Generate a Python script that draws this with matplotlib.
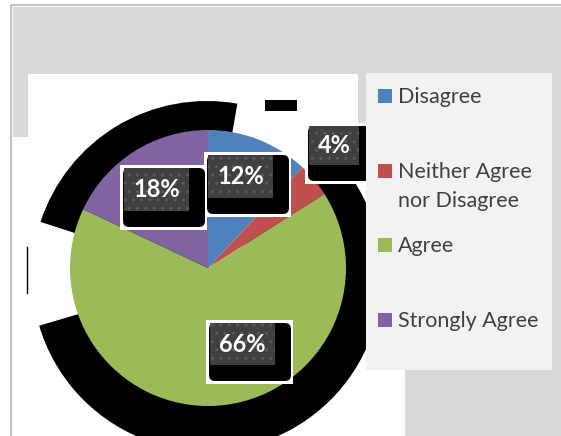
import textwrap
import matplotlib
matplotlib.use("Agg")
import matplotlib.pyplot as plt
from matplotlib.patches import Rectangle, Wedge, FancyBboxPatch

# ---- data ----
categories = ["Disagree", "Neither Agree nor Disagree", "Agree", "Strongly Agree"]
values = [12, 4, 66, 18]
label_texts = ["12%", "4%", "66%", "18%"]
colors = ["#4f81bd", "#c0504d", "#9bbb59", "#8064a2"]

# ---- layout (pixel units, y measured from top) ----
W, H = 561, 436
PIE_C = (208, 268)
PIE_R = 138
# dark label boxes: (left, top, width, height)
label_boxes = [(208, 155, 65, 43), (309, 126, 50, 39), (210, 323, 65, 42), (124, 168, 65, 43)]
legend_baselines = [103, 178, 252, 327]

plt.rcParams['font.family'] = ['Lato', 'DejaVu Sans']

fig = plt.figure(figsize=(W / 100, H / 100), dpi=100)
fig.patch.set_facecolor("white")
ax = fig.add_axes([0, 0, 1, 1])


def Y(py):
    return H - py


def rect(x0, y0, x1, y1, z=1, **kw):
    ax.add_patch(Rectangle((x0, Y(y1)), x1 - x0, y1 - y0, zorder=z, **kw))


# backgrounds
rect(13, 7, W, H, z=0.5, facecolor="#d9d9d9", edgecolor="none")
ax.plot([11.5, 11.5], [Y(5), Y(H)], color="#c3c3c3", lw=1.6, zorder=0.6, solid_capstyle="butt")
ax.plot([11, W], [Y(5.5), Y(5.5)], color="#c3c3c3", lw=1.6, zorder=0.6, solid_capstyle="butt")
rect(28, 74, 358, 138, z=0.7, facecolor="white", edgecolor="none")
rect(13, 137, 405, H, z=0.7, facecolor="white", edgecolor="none")

# black shadow artifact behind pie
SC = (207, Y(276))
ax.add_patch(Wedge(SC, 175, 80, 162, facecolor="black", edgecolor="none", zorder=1))
ax.add_patch(Wedge(SC, 175, -163.5, 40, facecolor="black", edgecolor="none", zorder=1))
rect(265, 100, 297, 111, z=1, facecolor="black", edgecolor="none")
ax.plot([27.5, 27.5], [Y(247), Y(293)], color="black", lw=1, zorder=1)

# pie
wedges, _ = ax.pie(values, colors=colors, startangle=90, counterclock=False,
                   center=(PIE_C[0], Y(PIE_C[1])), radius=PIE_R,
                   wedgeprops=dict(linewidth=0))
for w in wedges:
    w.set_zorder(2)

# data labels
for txt, (x0, y0, bw, bh) in zip(label_texts, label_boxes):
    rect(x0 - 4, y0 - 3, x0 + bw + 18, y0 + bh + 19, z=3, facecolor="white", edgecolor="none")
    ax.add_patch(FancyBboxPatch((x0 - 1, Y(y0 + bh + 16)), bw + 17, bh + 16,
                                boxstyle="round,pad=0,rounding_size=6",
                                facecolor="black", edgecolor="none", zorder=3.1))
    ax.add_patch(Rectangle((x0, Y(y0 + bh)), bw, bh, facecolor="#404040",
                           edgecolor="#5a5a5a", hatch="..", linewidth=0, zorder=3.2))
    ax.text(x0 + bw / 2, Y(y0 + bh / 2), txt, color="white", fontsize=17,
            fontweight="bold", ha="center", va="center", zorder=3.3)

# legend
rect(366, 73, 552, 370, z=4, facecolor="#f2f2f2", edgecolor="none")
for name, col, base in zip(categories, colors, legend_baselines):
    rect(378, base - 14, 392, base, z=4.1, facecolor=col, edgecolor="none")
    for i, line in enumerate(textwrap.wrap(name, 14)):
        ax.text(398, Y(base + 29 * i), line, color="#404040", fontsize=15.5,
                ha="left", va="baseline", zorder=4.2)

ax.set_xlim(0, W)
ax.set_ylim(0, H)
ax.set_aspect("auto")
ax.axis("off")
fig.savefig("out.png", dpi=100, facecolor="white")
